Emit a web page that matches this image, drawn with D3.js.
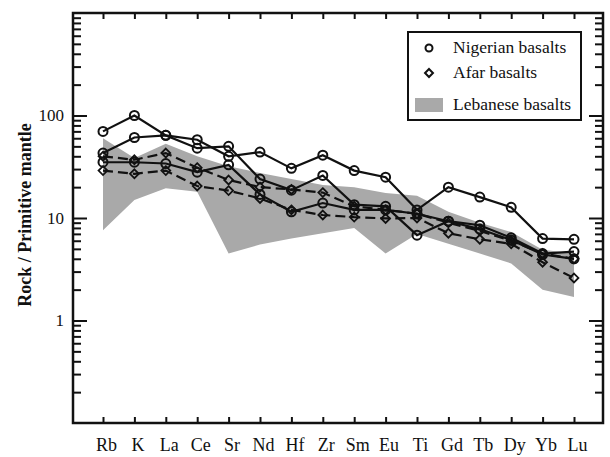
<!DOCTYPE html>
<html>
<head>
<meta charset="utf-8">
<script src="https://cdn.jsdelivr.net/npm/d3@7"></script>
<style>
  body { margin: 0; background: #fff; }
  svg text { font-family: "Liberation Serif", "DejaVu Serif", serif !important; fill: #111; }
</style>
</head>
<body>
<svg width="610" height="457"></svg>
<script>
var elements = ['Rb', 'K', 'La', 'Ce', 'Sr', 'Nd', 'Hf', 'Zr', 'Sm', 'Eu', 'Ti', 'Gd', 'Tb', 'Dy', 'Yb', 'Lu'];

// Nigerian basalts (circles, solid)
var nigerian1 = [70, 100, 64, 58, 40, 44, 30.5, 41, 29, 25, 12, 20, 16, 12.7, 6.3, 6.2];
var nigerian2 = [43, 61, 64, 48, 50, 24, 18.7, 26, 13.5, 13, 6.8, 9.3, 8.5, 6.4, 4.5, 4.7];
var nigerian3 = [35, 35, 34, 28, 33, 17, 11.5, 14, 12, 12, 11, 9.3, 7.8, 6.1, 4.4, 4.0];

// Afar basalts (diamonds, dashed)
var afar1 = [40, 37, 43, 31, 23.5, 20, 19, 17.7, 13, 12, 11, 9, 7.5, 6.0, 4.5, 4.0];
var afar2 = [29, 27, 29, 20.5, 18.5, 15.5, 12, 10.7, 10.2, 9.9, 10, 7.1, 6.2, 5.6, 3.7, 2.6];

// Lebanese basalts field
var lebUpper = [60, 38.5, 53, 40, 32, 27.5, 24, 21, 20, 17.5, 16.5, 11.5, 9, 7.3, 4.9, 4.5];
var lebLower = [7.6, 15, 19.5, 18, 4.5, 5.5, 6.3, 7.1, 8, 4.5, 7, 5.6, 4.5, 3.6, 2.0, 1.7];

var yLabels = [1, 10, 100];

var svg = d3.select("svg");
var margin = { top: 13, right: 7, bottom: 34, left: 73 };
var width = +svg.attr("width") - margin.left - margin.right;
var height = +svg.attr("height") - margin.top - margin.bottom;
var g = svg.append("g").attr("transform", "translate(" + margin.left + "," + margin.top + ")");

var x = d3.scalePoint().domain(elements).range([30, 501]);
var y = d3.scaleLog().domain([0.1, 1000]).range([height, 0]);

// minor tick values for log axis
var minors = [];
[0.1, 1, 10, 100].forEach(function (b) {
    for (var k = 2; k <= 9; k++) minors.push(b * k);
});

// Lebanese field
var area = d3.area()
    .x(function (d, i) { return x(elements[i]); })
    .y0(function (d, i) { return y(lebLower[i]); })
    .y1(function (d) { return y(d); });

g.append("path")
    .attr("d", area(lebUpper))
    .attr("fill", "#a9a9a9");

var line = d3.line()
    .x(function (d, i) { return x(elements[i]); })
    .y(function (d) { return y(d); });

var series = [
    { values: afar1, type: "afar" },
    { values: afar2, type: "afar" },
    { values: nigerian1, type: "nig" },
    { values: nigerian2, type: "nig" },
    { values: nigerian3, type: "nig" }
];

series.forEach(function (s) {
    g.append("path")
        .attr("d", line(s.values))
        .attr("fill", "none")
        .attr("stroke", "#111")
        .attr("stroke-width", 2.2)
        .style("stroke-dasharray", s.type === "afar" ? "10,5" : null);
});

var diamond = d3.symbol().type(d3.symbolDiamond2).size(50);

series.forEach(function (s) {
    if (s.type === "nig") {
        g.selectAll(null).data(s.values).enter().append("circle")
            .attr("cx", function (d, i) { return x(elements[i]); })
            .attr("cy", function (d) { return y(d); })
            .attr("r", 4.5)
            .attr("fill", "none")
            .attr("stroke", "#111")
            .attr("stroke-width", 2);
    } else {
        g.selectAll(null).data(s.values).enter().append("path")
            .attr("transform", function (d, i) { return "translate(" + x(elements[i]) + "," + y(d) + ")"; })
            .attr("d", diamond)
            .attr("fill", "none")
            .attr("stroke", "#111")
            .attr("stroke-width", 1.8);
    }
});

// axes: ticks pointing inward
function styleAxis(sel) {
    sel.attr("font-family", null);
    sel.select(".domain").remove();
    sel.selectAll(".tick line").attr("stroke", "#111").attr("stroke-width", 2);
}

g.append("g")
    .call(d3.axisLeft(y).tickValues(minors).tickSize(-8).tickFormat(""))
    .call(styleAxis);
g.append("g")
    .call(d3.axisLeft(y).tickValues(yLabels).tickSize(-14).tickPadding(9).tickFormat(d3.format("d")))
    .call(styleAxis)
    .selectAll("text").style("font-size", "17px");

g.append("g")
    .attr("transform", "translate(" + width + ",0)")
    .call(d3.axisRight(y).tickValues(minors).tickSize(-8).tickFormat(""))
    .call(styleAxis);
g.append("g")
    .attr("transform", "translate(" + width + ",0)")
    .call(d3.axisRight(y).tickValues(yLabels).tickSize(-14).tickFormat(""))
    .call(styleAxis);

g.append("g")
    .call(d3.axisTop(x).tickSize(-6).tickFormat(""))
    .call(styleAxis);

g.append("g")
    .attr("transform", "translate(0," + height + ")")
    .call(d3.axisBottom(x).tickSize(-6).tickPadding(15))
    .call(styleAxis)
    .selectAll("text").style("font-size", "18px").attr("dx", 3);

// frame
g.append("rect")
    .attr("width", width)
    .attr("height", height)
    .attr("fill", "none")
    .attr("stroke", "#111")
    .attr("stroke-width", 2.5);

// y title
svg.append("text")
    .attr("transform", "translate(31," + (margin.top + 202) + ") rotate(-90)")
    .attr("text-anchor", "middle")
    .style("font-size", "18px")
    .style("font-weight", "bold")
    .text("Rock / Primitive mantle");

// legend
var lg = svg.append("g").attr("transform", "translate(408,32)");
lg.append("rect")
    .attr("width", 173)
    .attr("height", 88)
    .attr("fill", "#fff")
    .attr("stroke", "#111")
    .attr("stroke-width", 2);
lg.append("circle")
    .attr("cx", 21).attr("cy", 16).attr("r", 3.5)
    .attr("fill", "none").attr("stroke", "#111").attr("stroke-width", 2);
lg.append("path")
    .attr("transform", "translate(21,41)")
    .attr("d", d3.symbol().type(d3.symbolDiamond2).size(40))
    .attr("fill", "none").attr("stroke", "#111").attr("stroke-width", 2);
lg.append("rect")
    .attr("x", 7).attr("y", 66).attr("width", 28).attr("height", 14)
    .attr("fill", "#a9a9a9");
var legendText = ["Nigerian basalts", "Afar basalts", "Lebanese basalts"];
lg.selectAll(".lt").data(legendText).enter().append("text")
    .attr("class", "lt")
    .attr("x", 45)
    .attr("y", function (d, i) { return [21, 46, 78][i]; })
    .style("font-size", "17.5px")
    .text(function (d) { return d; });
</script>
</body>
</html>
